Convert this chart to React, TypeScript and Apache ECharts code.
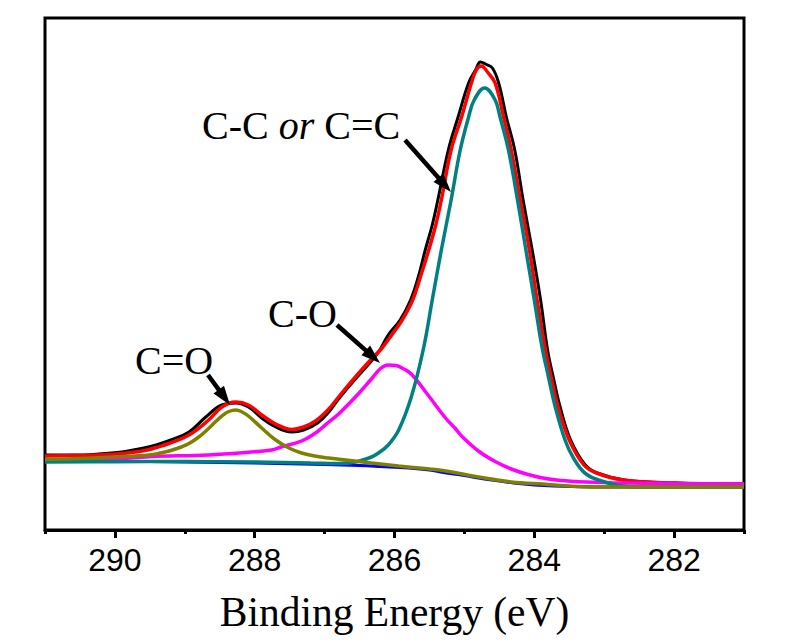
import React, { useEffect, useRef } from 'react';
import * as echarts from 'echarts';

// Axis ticks (binding energy, eV)
const majorTicks = [290, 288, 286, 284, 282];
const minorTicks = [291, 289, 287, 285, 283, 281];

// Raw data (black)
const rawE = [291, 290.6, 290.23, 289.9, 289.66, 289.41, 289.2, 288.94, 288.7, 288.47, 288.27, 288.09, 287.9, 287.7, 287.47, 287.3, 287.1, 286.94, 286.8, 286.56, 286.33, 286.21, 286.09, 285.92, 285.77, 285.66, 285.56, 285.46, 285.38, 285.23, 285.09, 284.94, 284.84, 284.77, 284.7, 284.6, 284.51, 284.4, 284.28, 284.16, 284.03, 283.91, 283.81, 283.72, 283.63, 283.48, 283.27, 283.1, 282.71, 282, 281];
const rawV = [75, 75, 76, 78, 81, 85, 90, 98, 113, 125, 127, 123, 112, 103, 98, 100, 107, 118, 131, 151, 169, 180, 195, 210, 230, 253, 280, 305, 330, 380, 413, 447, 460, 468, 466, 462, 447, 413, 380, 330, 280, 230, 180, 150, 123, 90, 65, 57, 50, 47, 46];

// Envelope fit (red)
const fitE = [291, 290.6, 290.23, 289.9, 289.66, 289.51, 289.41, 289.23, 288.94, 288.66, 288.47, 288.27, 288.09, 287.9, 287.7, 287.47, 287.3, 287.13, 286.94, 286.8, 286.56, 286.33, 286.19, 286.04, 285.89, 285.74, 285.63, 285.51, 285.41, 285.33, 285.19, 285.04, 284.9, 284.83, 284.76, 284.66, 284.56, 284.44, 284.33, 284.2, 284.07, 283.96, 283.84, 283.75, 283.66, 283.5, 283.29, 283.11, 282.73, 282, 281];
const fitV = [74, 74.5, 75, 76.5, 78.5, 80.5, 82.5, 86.5, 95, 110, 123, 128, 125, 115, 106, 100.5, 103, 109, 121, 133, 153, 171, 181, 195, 210, 230, 253, 280, 305, 330, 380, 413, 447, 460, 464, 457, 447, 413, 380, 330, 280, 230, 180, 150, 123, 90, 65, 57, 50, 47, 46];

// C-C / C=C component (teal)
const ccE = [291, 290, 289, 288, 287.2, 286.8, 286.56, 286.33, 286.23, 286.09, 285.94, 285.76, 285.59, 285.46, 285.33, 285.19, 285.06, 284.94, 284.86, 284.71, 284.56, 284.49, 284.37, 284.24, 284.12, 284.0, 283.89, 283.8, 283.7, 283.56, 283.44, 283.26, 282.99, 282.8, 282.5, 281];
const ccV = [68, 68.3, 68.5, 68, 67, 66.5, 68, 73, 77, 85, 100, 133, 180, 230, 280, 330, 380, 413, 430, 442, 430, 413, 380, 330, 280, 230, 183, 154, 123, 90, 72, 56, 48, 44.5, 43, 43];

// C-O component (magenta)
const coE = [291, 290, 289.51, 288.66, 288.09, 287.76, 287.61, 287.33, 287.13, 287.04, 286.94, 286.8, 286.56, 286.33, 286.2, 286.09, 285.98, 285.88, 285.76, 285.51, 285.27, 285.13, 285.04, 284.8, 284.56, 284.33, 284.09, 283.84, 283.6, 283.37, 282.9, 282, 281];
const coV = [69.5, 71, 73.3, 75, 77.7, 80, 83.3, 89, 97, 102, 108, 116, 133, 151, 161.5, 165, 164.5, 161.5, 156, 134, 112, 101.5, 94, 79, 68.5, 61, 55.5, 51.5, 49.5, 48.3, 47.3, 46.5, 46];

// C=O component (olive)
const c2oE = [291, 290.5, 290, 289.51, 289.35, 289.2, 289.05, 288.94, 288.8, 288.66, 288.55, 288.47, 288.37, 288.27, 288.18, 288.09, 287.9, 287.7, 287.51, 287.33, 287.1, 286.94, 286.33, 285.94, 285.5, 285.27, 284.8, 284.33, 283.84, 283.37, 283, 282, 281];
const c2oV = [70.7, 71.5, 73, 75, 77, 79.5, 83, 86.5, 93, 101.5, 109, 114, 118.5, 120, 118, 114, 102, 90, 82, 77, 73.5, 72, 67, 64, 61, 59, 53, 48, 45.7, 43.5, 43, 43, 43];

// Shirley background (blue)
const bgE = [291, 290, 289, 288, 287, 286.5, 286.2, 285.8, 285.5, 285.3, 285.0, 284.8, 284.5, 284.3, 284.0, 283.8, 283.5, 283.0, 282, 281];
const bgV = [69, 68.8, 68, 67, 65.5, 64.5, 63.5, 62, 60, 57.5, 54.5, 52, 49, 47, 45, 44.3, 43.5, 43, 43, 43];

const zip = (e: number[], v: number[]) => e.map((x, i) => [x, v[i]]);

const SERIF = 'Liberation Serif, Times New Roman, serif';
const SANS = 'Liberation Sans, Arial, sans-serif';

function arrow(x1: number, y1: number, x2: number, y2: number) {
  const dx = x2 - x1, dy = y2 - y1;
  const L = Math.hypot(dx, dy);
  const ux = dx / L, uy = dy / L;
  const hl = 19, hw = 6.5;
  const bx = x2 - ux * hl, by = y2 - uy * hl;
  return [
    { type: 'line', shape: { x1, y1, x2: bx + ux * 3, y2: by + uy * 3 }, style: { stroke: '#000', lineWidth: 4.5 }, z: 100 },
    { type: 'polygon', shape: { points: [[x2, y2], [bx - uy * hw, by + ux * hw], [bx + uy * hw, by - ux * hw]] }, style: { fill: '#000' }, z: 100 },
  ];
}

function lineSeries(name: string, e: number[], v: number[], color: string, width: number) {
  return {
    name,
    type: 'line',
    data: zip(e, v),
    showSymbol: false,
    symbol: 'none',
    smooth: 0.4,
    lineStyle: { color, width },
    itemStyle: { color },
  };
}

export default function App() {
  const ref = useRef<HTMLDivElement>(null);
  useEffect(() => {
    document.body.style.margin = '0';
    const chart = echarts.init(ref.current!, null, { renderer: 'svg' });
    const txt = (x: number, y: number, text: string, rich?: any) => ({
      type: 'text', x, y, z: 100,
      style: {
        text,
        fill: '#000',
        fontFamily: SERIF,
        fontSize: 40,
        align: 'left',
        verticalAlign: 'middle',
        rich,
      },
    });
    chart.setOption({
      animation: false,
      backgroundColor: '#fff',
      grid: { left: 45, right: 53, top: 18, bottom: 110, show: true, borderColor: '#000', borderWidth: 3, backgroundColor: 'transparent' },
      xAxis: [
        {
          type: 'value', min: 281, max: 291, inverse: true, position: 'bottom',
          name: 'Binding Energy (eV)', nameLocation: 'middle', nameGap: 61,
          nameTextStyle: { fontFamily: SERIF, fontSize: 41.5, color: '#000' },
          axisLine: { show: true, lineStyle: { color: '#000', width: 3 } },
          axisTick: { show: true, inside: false, length: 8, lineStyle: { color: '#000', width: 3 }, customValues: majorTicks },
          axisLabel: { show: true, margin: 14, fontFamily: SANS, fontSize: 32, color: '#000', customValues: majorTicks },
          splitLine: { show: false },
        },
        {
          type: 'value', min: 281, max: 291, inverse: true, position: 'bottom',
          axisLine: { show: false },
          axisTick: { show: true, inside: false, length: 4, lineStyle: { color: '#000', width: 3 }, customValues: minorTicks },
          axisLabel: { show: false },
          splitLine: { show: false },
        },
      ],
      yAxis: { type: 'value', min: 0, max: 512, show: false, splitLine: { show: false } },
      series: [
        lineSeries('Raw', rawE, rawV, '#000000', 3),
        lineSeries('Fit', fitE, fitV, '#FF0000', 3.5),
        lineSeries('Background', bgE, bgV, '#0000FF', 3),
        lineSeries('C-O', coE, coV, '#FF00FF', 3.5),
        lineSeries('C-C', ccE, ccV, '#008080', 3.5),
        lineSeries('C=O', c2oE, c2oV, '#808000', 3.5),
      ],
      graphic: [
        txt(202, 125, '{a|C-C }{b|or}{a| C=C}', {
          a: { fontFamily: SERIF, fontSize: 40, fill: '#000' },
          b: { fontFamily: SERIF, fontSize: 40, fontStyle: 'italic', fill: '#000' },
        }),
        txt(268, 313, 'C-O'),
        txt(135, 360, 'C=O'),
        ...arrow(405, 140, 451, 192),
        ...arrow(337, 325, 380, 363),
        ...arrow(208, 375, 230, 405),
      ],
    });
    return () => chart.dispose();
  }, []);
  return <div ref={ref} style={{ width: 797, height: 640 }} />;
}
